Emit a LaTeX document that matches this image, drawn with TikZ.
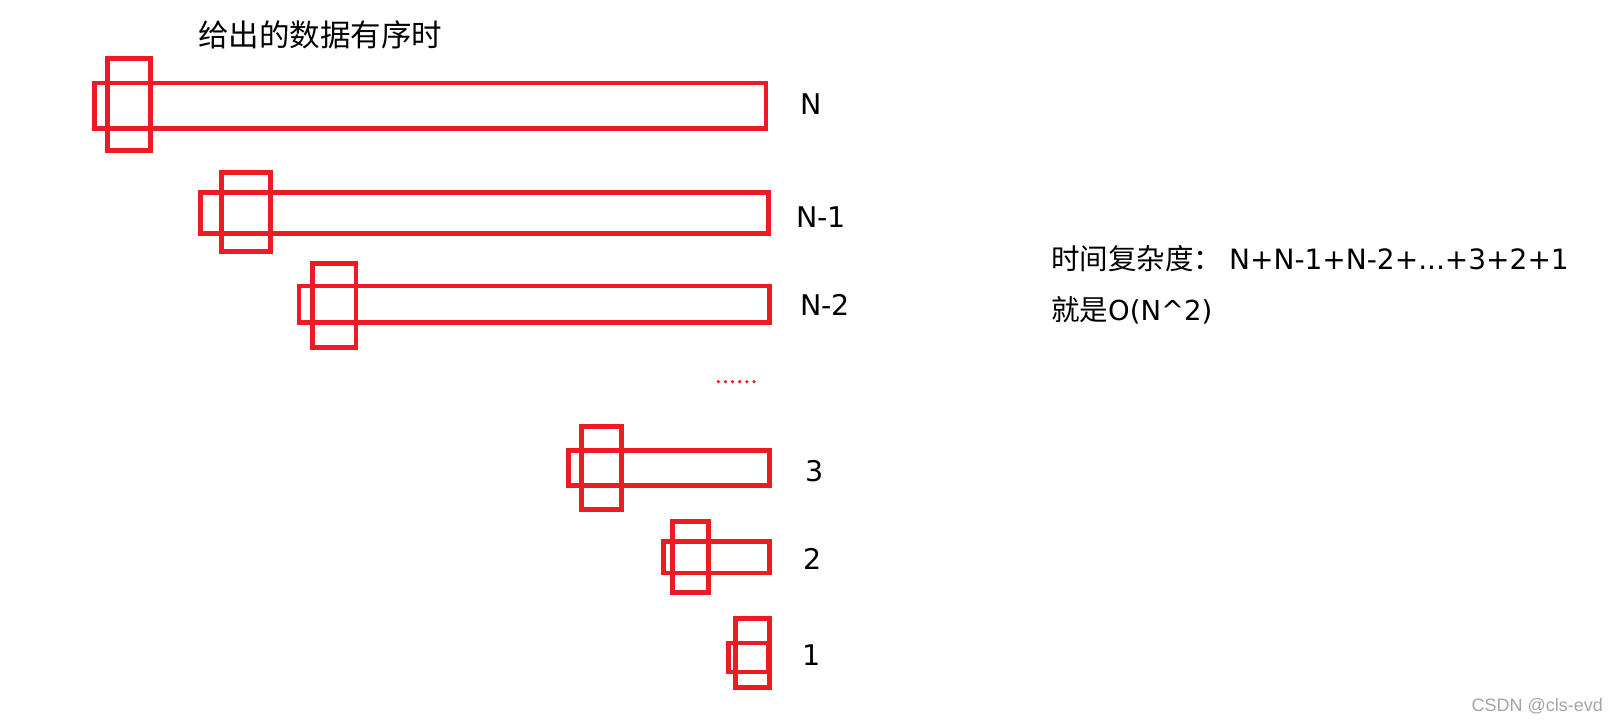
\documentclass[tikz,border=0pt]{standalone}
\usepackage{fontspec}
\setmainfont{Noto Sans CJK SC}
\newfontfamily\latfont{DejaVu Sans}
\newfontfamily\wmfont{Liberation Sans}
\definecolor{paintred}{RGB}{237,28,36}
\tikzset{
  redbox/.style={draw=paintred, line width=4.7pt},
  lbl/.style={inner sep=0pt, font=\latfont\fontsize{28.5}{34}\selectfont},
  txt/.style={inner sep=0pt, font=\fontsize{28.5}{34}\selectfont},
}
\begin{document}
\begin{tikzpicture}[x=1pt,y=-1pt]
\useasboundingbox[fill=white] (0,0) rectangle (1618,722);
% title
\node[inner sep=0pt, font=\fontsize{30.5}{34}\selectfont] (title) at (320,35) {给出的数据有序时};
% row N
\draw[redbox] (94.7,82.9) rectangle (766,128.3);
\draw[redbox] (107.4,58.4) rectangle (150.3,150.6);
\node[lbl] (lN) at (811,104) {N};
% row N-1
\draw[redbox] (200.7,192.4) rectangle (768.3,233.6);
\draw[redbox] (221.4,172.4) rectangle (270.3,251.6);
\node[lbl] (lN1) at (821,217) {N-1};
% row N-2
\draw[redbox] (299,286) rectangle (769.3,322.6);
\draw[redbox] (312.4,263.4) rectangle (356,347.6);
\node[lbl] (lN2) at (825,305) {N-2};
% dots
\foreach \i in {0,...,5} \fill[paintred] (718.3+7.14*\i,381.7) circle (1.8);
% row 3
\draw[redbox] (568.4,450.4) rectangle (769.3,485.6);
\draw[redbox] (581.4,426.4) rectangle (621.6,509.3);
\node[lbl] (l3) at (815,471) {3};
% row 2
\draw[redbox] (663.4,541.4) rectangle (769.3,573.1);
\draw[redbox] (672.4,521.4) rectangle (708.6,592.6);
\node[lbl] (l2) at (812.5,559) {2};
% row 1
\draw[redbox] (728.4,643) rectangle (768.6,672);
\draw[redbox] (735.4,618.4) rectangle (769.6,687.6);
\node[lbl] (l1) at (812,655) {1};
% complexity text
\node[txt, anchor=base west] (c1) at (1051,269.5) {时间复杂度：\hspace{7pt}{\latfont\fontsize{28}{34}\selectfont N+N-1+N-2+...+3+2+1}};
\node[txt, anchor=base west] (c2) at (1051,320) {就是{\latfont\fontsize{27.5}{34}\selectfont O(N\textasciicircum 2)}};
% watermark
\node[inner sep=0pt, anchor=east, text=gray!70, font=\wmfont\fontsize{18}{20}\selectfont] (wm) at (1603,706) {CSDN @cls-evd};
\end{tikzpicture}
\end{document}
